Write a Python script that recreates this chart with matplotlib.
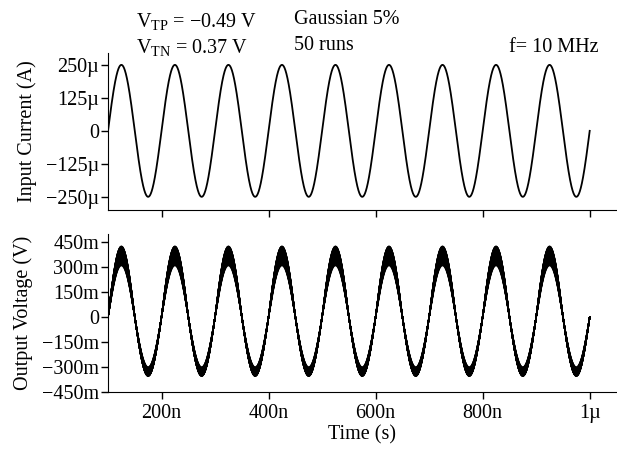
import numpy as np
import matplotlib
matplotlib.use("Agg")
import matplotlib.pyplot as plt
from matplotlib.ticker import FixedLocator, FixedFormatter

plt.rcParams['font.family'] = ['Liberation Serif', 'DejaVu Serif']
plt.rcParams['mathtext.fontset'] = 'custom'
plt.rcParams['mathtext.rm'] = 'Liberation Serif'
plt.rcParams['mathtext.it'] = 'Liberation Serif:italic'

# ---- data ----
freq_hz = 10e6
t_start = 100e-9
t_end = 1e-6
input_amp = 250e-6

# output peak (positive) and trough (negative) amplitudes of the 50 Monte Carlo runs, in V
out_pos_amp = [0.310, 0.315, 0.320, 0.322, 0.325, 0.328, 0.330, 0.333, 0.336, 0.340,
               0.342, 0.345, 0.348, 0.350, 0.352, 0.355, 0.358, 0.360, 0.362, 0.365,
               0.367, 0.370, 0.372, 0.375, 0.377, 0.380, 0.382, 0.384, 0.386, 0.388,
               0.390, 0.392, 0.394, 0.396, 0.398, 0.400, 0.402, 0.404, 0.406, 0.408,
               0.410, 0.412, 0.414, 0.416, 0.418, 0.420, 0.422, 0.424, 0.425, 0.426]
out_neg_amp = [0.300, 0.302, 0.305, 0.307, 0.309, 0.311, 0.313, 0.315, 0.317, 0.319,
               0.320, 0.322, 0.323, 0.325, 0.326, 0.328, 0.329, 0.330, 0.331, 0.333,
               0.334, 0.335, 0.336, 0.337, 0.338, 0.339, 0.340, 0.341, 0.342, 0.343,
               0.343, 0.344, 0.345, 0.345, 0.346, 0.347, 0.347, 0.348, 0.349, 0.349,
               0.350, 0.350, 0.351, 0.351, 0.352, 0.352, 0.353, 0.353, 0.354, 0.355]

x_ticks = [200e-9, 400e-9, 600e-9, 800e-9, 1e-6]
x_labels = ['200n', '400n', '600n', '800n', '1µ']
i_ticks = [-250e-6, -125e-6, 0, 125e-6, 250e-6]
i_labels = ['−250µ', '−125µ', '0', '125µ', '250µ']
v_ticks = [-0.45, -0.30, -0.15, 0, 0.15, 0.30, 0.45]
v_labels = ['−450m', '−300m', '−150m', '0', '150m', '300m', '450m']

t = np.linspace(t_start, t_end, 4000)
s = np.sin(2 * np.pi * freq_hz * (t - t_start))

W, H = 617, 449
fig = plt.figure(figsize=(W / 100, H / 100), dpi=100)

def frac(x0, y0, x1, y1):
    return [x0 / W, 1 - y1 / H, (x1 - x0) / W, (y1 - y0) / H]

ax1 = fig.add_axes(frac(108, 53, 617, 210))
ax2 = fig.add_axes(frac(108, 234, 617, 392))

ax1.plot(t, input_amp * s, color='black', lw=1.3)
for ap, an in zip(out_pos_amp, out_neg_amp):
    v = np.where(s >= 0, ap * s, an * s)
    ax2.plot(t, v, color='black', lw=1.0)

fs = 14.5
for ax in (ax1, ax2):
    ax.set_xlim(100e-9, 1.051e-6)
    ax.spines['top'].set_visible(False)
    ax.spines['right'].set_visible(False)
    ax.xaxis.set_major_locator(FixedLocator(x_ticks))
    ax.tick_params(direction='out', length=5, width=1, labelsize=fs, pad=1.5)
    ax.tick_params(axis='x', pad=3.5)

ax1.set_xticklabels([])
ax2.xaxis.set_major_formatter(FixedFormatter(x_labels))

ax1.set_ylim(-300e-6, 295e-6)
ax1.yaxis.set_major_locator(FixedLocator(i_ticks))
ax1.yaxis.set_major_formatter(FixedFormatter(i_labels))
ax2.set_ylim(-0.45, 0.50)
ax2.yaxis.set_major_locator(FixedLocator(v_ticks))
ax2.yaxis.set_major_formatter(FixedFormatter(v_labels))

ax1.set_ylabel('Input Current (A)', fontsize=fs, labelpad=6.5)
ax2.set_ylabel('Output Voltage (V)', fontsize=fs, labelpad=6.5)
ax2.set_xlabel('Time (s)', fontsize=fs, labelpad=1.5)

fig.text(136 / W, 1 - 21 / H, r'V$_{\mathrm{TP}}$ = −0.49 V', fontsize=fs, va='center')
fig.text(136 / W, 1 - 47 / H, r'V$_{\mathrm{TN}}$ = 0.37 V', fontsize=fs, va='center')
fig.text(294 / W, 1 - 19 / H, 'Gaussian 5%', fontsize=fs, va='center')
fig.text(294 / W, 1 - 45 / H, '50 runs', fontsize=fs, va='center')
fig.text(599 / W, 1 - 47 / H, 'f= 10 MHz', fontsize=fs, va='center', ha='right')

fig.savefig('out.png', dpi=100)
